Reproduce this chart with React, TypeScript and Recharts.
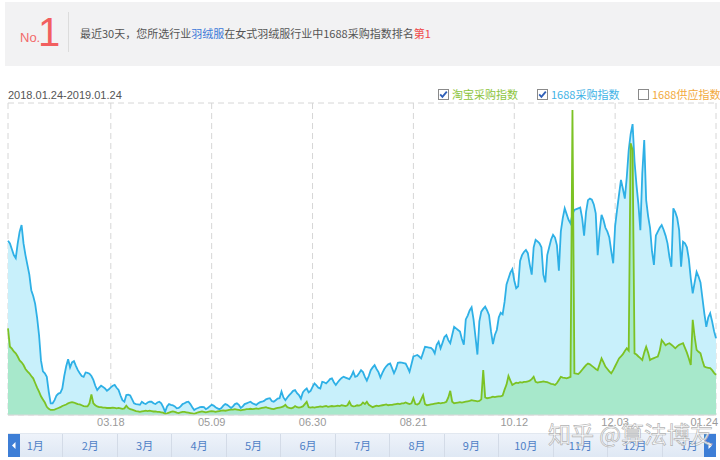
import { AreaChart, Area, XAxis, YAxis, CartesianGrid } from "recharts";

// x ticks are day offsets from 2018.01.24
const TICK_DAYS = [53, 105, 157, 209, 261, 313, 365];
const TICK_LABELS = ["03.18", "05.09", "06.30", "08.21", "10.12", "12.03", "01.24"];
const Y_TICKS = [0, 100, 200, 300, 400, 500, 600, 700, 800];
const MONTHS = ["1月", "2月", "3月", "4月", "5月", "6月", "7月", "8月", "9月", "10月", "11月", "12月", "1月"];

// 1688采购指数, one value per day
const BUY_1688 = [
  447, 440, 425, 410, 402, 440, 470, 487, 440, 410,
  385, 360, 320, 305, 285, 250, 205, 140, 112, 107,
  98, 60, 30, 30, 38, 50, 55, 57, 68, 100,
  125, 143, 122, 135, 138, 126, 115, 107, 100, 98,
  109, 108, 106, 100, 90, 75, 64, 70, 75, 72,
  68, 62, 66, 71, 75, 77, 70, 64, 50, 38,
  34, 51, 52, 50, 40, 30, 28, 27, 26, 34,
  30, 28, 32, 34, 34, 30, 28, 32, 34, 30,
  20, 8, 22, 28, 26, 25, 22, 17, 18, 22,
  28, 30, 33, 34, 28, 20, 13, 16, 18, 20,
  21, 20, 15, 18, 22, 26, 24, 20, 17, 15,
  18, 24, 28, 26, 22, 18, 22, 28, 30, 26,
  18, 22, 28, 30, 32, 34, 30, 28, 26, 30,
  33, 34, 36, 40, 42, 43, 36, 34, 38, 42,
  43, 60, 45, 38, 45, 51, 56, 62, 64, 56,
  51, 42, 58, 64, 68, 58, 62, 72, 81, 76,
  70, 68, 85, 84, 81, 86, 92, 94, 84, 77,
  84, 90, 95, 98, 96, 94, 92, 100, 111, 98,
  100, 107, 115, 110, 98, 88, 100, 115, 122, 128,
  118, 110, 96, 108, 118, 125, 130, 132, 120, 107,
  118, 134, 135, 134, 133, 132, 122, 111, 130, 150,
  152, 154, 150, 145, 160, 175, 174, 173, 172, 168,
  158, 180, 188, 171, 185, 200, 205, 192, 184, 205,
  226, 222, 218, 214, 195, 180, 245, 255, 268, 276,
  245, 200, 155, 240, 265, 272, 278, 268, 256, 215,
  182, 205, 218, 250, 262, 258, 290, 335, 350, 365,
  374, 345, 325, 330, 395, 410, 418, 423, 415, 385,
  360, 430, 449, 445, 440, 430, 360, 340, 410, 430,
  450, 462, 455, 435, 370, 470, 505, 530, 515, 500,
  491, 515, 526, 528, 530, 532, 505, 460, 520, 551,
  555, 552, 540, 517, 410, 470, 513, 500, 480, 470,
  455, 420, 389, 485, 526, 565, 603, 580, 555, 610,
  679, 720, 746, 650, 590, 540, 474, 620, 705, 551,
  510, 480, 420, 385, 460, 470, 480, 487, 475, 460,
  440, 405, 380, 530, 520, 505, 474, 380, 444, 440,
  430, 400, 350, 312, 340, 367, 355, 340, 300, 260,
  226, 250, 261, 240, 215, 197,
];

// 淘宝采购指数, one value per day
const TAOBAO = [
  222, 175, 170, 163, 158, 150, 140, 135, 128, 118,
  112, 107, 100, 94, 82, 70, 60, 48, 40, 32,
  21, 16, 13, 13, 14, 16, 18, 20, 23, 25,
  27, 30, 32, 33, 32, 30, 28, 27, 25, 23,
  22, 22, 30, 53, 30, 25, 22, 20, 20, 19,
  19, 18, 18, 18, 19, 18, 17, 18, 17, 16,
  17, 24, 18, 15, 14, 12, 10, 9, 8, 9,
  10, 11, 10, 11, 10, 9, 9, 8, 8, 7,
  6, 3, 4, 6, 8, 9, 8, 6, 5, 7,
  8, 8, 7, 6, 5, 4, 3, 5, 7, 8,
  9, 8, 7, 8, 9, 10, 9, 8, 9, 10,
  11, 12, 11, 12, 13, 14, 14, 15, 14, 13,
  12, 13, 14, 15, 15, 16, 15, 16, 17, 16,
  17, 18, 19, 20, 18, 17, 16, 15, 17, 18,
  19, 20, 22, 26, 20, 18, 17, 19, 23, 20,
  19, 20, 22, 28, 34, 20, 19, 20, 19, 20,
  21, 22, 21, 22, 23, 21, 22, 23, 22, 23,
  24, 23, 25, 24, 23, 25, 34, 24, 22, 23,
  25, 24, 26, 32, 28, 34, 26, 23, 20, 22,
  24, 23, 24, 25, 26, 27, 25, 26, 26, 27,
  28, 29, 28, 30, 30, 32, 30, 28, 30, 43,
  28, 27, 30, 40, 51, 28, 25, 26, 27, 28,
  29, 30, 31, 30, 31, 32, 34, 45, 62, 34,
  30, 31, 32, 33, 32, 33, 34, 35, 36, 38,
  37, 36, 35, 36, 40, 115, 45, 43, 44, 45,
  47, 46, 47, 48, 48, 50, 65, 78, 100, 88,
  77, 80, 83, 82, 84, 83, 85, 85, 86, 88,
  92, 98, 85, 83, 84, 85, 86, 85, 84, 82,
  80, 79, 77, 82, 90, 98, 96, 95, 94, 96,
  98, 782, 107, 106, 105, 110, 116, 122, 128, 132,
  130, 126, 122, 118, 115, 130, 145, 135, 124, 118,
  112, 107, 115, 125, 135, 145, 150, 156, 164, 171,
  165, 697, 680, 158, 155, 150, 146, 141, 160, 175,
  160, 141, 144, 146, 148, 150, 165, 192, 186, 179,
  182, 184, 180, 176, 171, 176, 180, 182, 184, 172,
  160, 145, 128, 244, 200, 167, 162, 158, 140, 124,
  122, 121, 120, 115, 108, 103,
];

const data = BUY_1688.map((v, i) => ({ day: i, buy: v, taobao: TAOBAO[i] }));

const FONT = '"Noto Sans CJK SC", "Liberation Sans", Arial, sans-serif';

const DayTick = (props: any) => {
  const { x, y, payload } = props;
  const i = TICK_DAYS.indexOf(payload.value);
  const last = i === TICK_DAYS.length - 1;
  return (
    <text
      x={last ? x + 2 : x}
      y={y}
      dy="0.71em"
      textAnchor={last ? "end" : "middle"}
      fontSize={11}
      fontFamily='"Liberation Sans", Arial, sans-serif'
      fill="#9a9a9a"
    >
      {TICK_LABELS[i]}
    </text>
  );
};

const CheckBox = ({ checked }: { checked: boolean }) => (
  <svg width={11} height={11} style={{ position: "absolute", left: 0, top: 1 }}>
    <rect x={0.5} y={0.5} width={10} height={10} fill="#fff" stroke="#8a8a8a" />
    {checked && (
      <path d="M2.2 5.4 L4.4 7.8 L8.8 2.6" fill="none" stroke="#2f5fb8" strokeWidth={1.8} />
    )}
  </svg>
);

const LegendItem = ({ left, label, color, checked }: any) => (
  <div style={{ position: "absolute", left, top: 88, height: 14, whiteSpace: "nowrap" }}>
    <CheckBox checked={checked} />
    <span style={{ position: "absolute", left: 14, top: 0, fontSize: 11, lineHeight: "13px", color }}>{label}</span>
  </div>
);

export default function App() {
  const cellW = 708 / MONTHS.length;
  return (
    <div
      style={{
        position: "absolute",
        left: 0,
        top: 0,
        width: 720,
        height: 460,
        background: "#fff",
        fontFamily: FONT,
        overflow: "hidden",
      }}
    >
      {/* header banner */}
      <div style={{ position: "absolute", left: 5, top: 2, width: 715, height: 64, background: "#f2f2f3" }} />
      <div style={{ position: "absolute", left: 20, top: 30, fontSize: 13, color: "#f26a6a", fontFamily: '"Liberation Sans", Arial' }}>No.</div>
      <div style={{ position: "absolute", left: 38, top: 8, fontSize: 40, lineHeight: "48px", color: "#f25f5f", fontFamily: '"Liberation Sans", Arial' }}>1</div>
      <div style={{ position: "absolute", left: 68, top: 12, width: 1, height: 40, background: "#dcdcdc" }} />
      <div style={{ position: "absolute", left: 80, top: 25, fontSize: 11, lineHeight: "16px", color: "#555", whiteSpace: "nowrap" }}>
        最近30天，您所选行业<span style={{ color: "#3b78d8" }}>羽绒服</span>在女式羽绒服行业中1688采购指数排名
        <span style={{ color: "#f04a4a" }}>第1</span>
      </div>

      {/* date range and legend */}
      <div style={{ position: "absolute", left: 8, top: 88, fontSize: 11, lineHeight: "14px", color: "#555", fontFamily: '"Liberation Sans", Arial' }}>
        2018.01.24-2019.01.24
      </div>
      <LegendItem left={438} label="淘宝采购指数" color="#8cc43c" checked />
      <LegendItem left={537} label="1688采购指数" color="#3fb3e6" checked />
      <LegendItem left={638} label="1688供应指数" color="#f2a93b" checked={false} />

      <div style={{ position: "absolute", left: 0, top: 100 }}>
        <AreaChart width={720} height={340} data={data} margin={{ top: 3, right: 4, bottom: 0, left: 8 }}>
          <CartesianGrid stroke="#d6d6d6" strokeDasharray="6 4" />
          <XAxis
            dataKey="day"
            type="number"
            domain={[0, 365]}
            ticks={TICK_DAYS}
            interval={0}
            height={25}
            tickSize={0}
            tickMargin={3}
            tick={<DayTick />}
            axisLine={{ stroke: "#d8d8d8" }}
          />
          <YAxis width={0} domain={[0, 800]} ticks={Y_TICKS} tick={false} tickLine={false} axisLine={{ stroke: "#c8c8c8" }} />
          <Area
            type="linear"
            dataKey="buy"
            stroke="#2eb0e6"
            strokeWidth={1.8}
            fill="#c8f0fb"
            fillOpacity={1}
            dot={false}
            activeDot={false}
            isAnimationActive={false}
          />
          <Area
            type="linear"
            dataKey="taobao"
            stroke="#7cc224"
            strokeWidth={1.8}
            fill="#a7e8cb"
            fillOpacity={1}
            dot={false}
            activeDot={false}
            isAnimationActive={false}
          />
        </AreaChart>
      </div>

      {/* month navigator */}
      <div
        style={{
          position: "absolute",
          left: 8,
          top: 433,
          width: 708,
          height: 23,
          background: "linear-gradient(#eef3fa, #dfe8f4)",
          borderTop: "1px solid #e2e8f0",
        }}
      >
        {MONTHS.map((m, i) => (
          <div
            key={`m-${i}`}
            style={{
              position: "absolute",
              left: i * cellW,
              top: 0,
              width: cellW,
              height: 23,
              borderLeft: i > 0 ? "1px solid #d3dbe7" : "none",
              boxSizing: "border-box",
              textAlign: "center",
              fontSize: 11,
              lineHeight: "23px",
              color: "#4f7fc6",
            }}
          >
            {m}
          </div>
        ))}
        <div style={{ position: "absolute", left: 0, top: 0, width: 12, height: 23, background: "#3d7ed6" }}>
          <svg width={12} height={23}>
            <path d="M7.5 8 L4 11.5 L7.5 15 Z" fill="#fff" />
          </svg>
        </div>
        <div style={{ position: "absolute", left: 696, top: 0, width: 12, height: 23, background: "#3d7ed6" }}>
          <svg width={12} height={23}>
            <path d="M4.5 8 L8 11.5 L4.5 15 Z" fill="#fff" />
          </svg>
        </div>
      </div>

      {/* watermark, drawn over the axis labels as in the source image */}
      <div
        style={{
          position: "absolute",
          left: 548,
          top: 418,
          fontSize: 23,
          lineHeight: "30px",
          color: "rgba(255,255,255,0.8)",
          WebkitTextStroke: "0.7px rgba(170,170,170,0.9)",
          whiteSpace: "nowrap",
        }}
      >
        知乎 @算法博友
      </div>
    </div>
  );
}
